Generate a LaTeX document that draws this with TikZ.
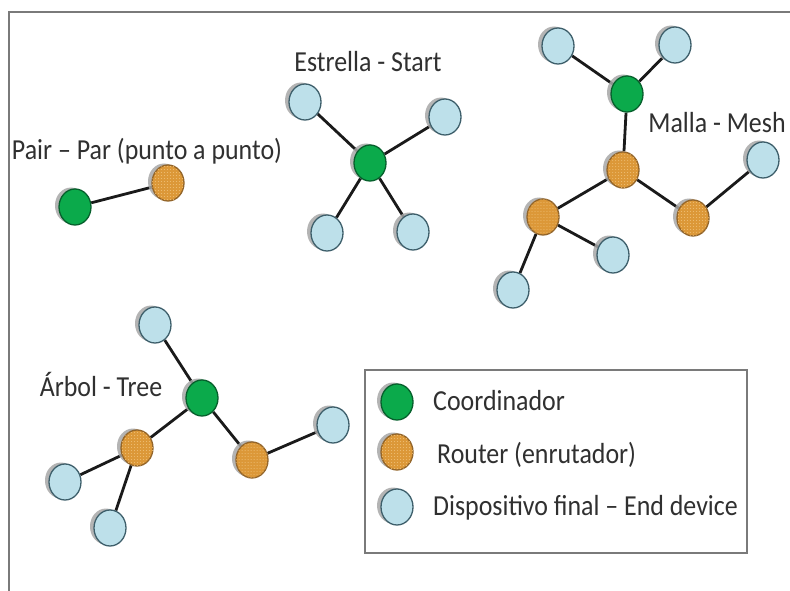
\documentclass[tikz,border=0pt]{standalone}
\usepackage{fontspec}
\setmainfont{Carlito}
\usetikzlibrary{shapes.geometric,shadows,patterns,backgrounds}

\definecolor{leaffill}{HTML}{BDE0EA}
\definecolor{leafline}{HTML}{3E5F6B}
\definecolor{greenfill}{HTML}{0BAA4B}
\definecolor{greenline}{HTML}{06602C}
\definecolor{orangefill}{HTML}{DC9838}
\definecolor{orangedot}{HTML}{F0C27A}
\definecolor{orangeline}{HTML}{93652A}
\definecolor{shadowgray}{HTML}{A8A8A8}
\definecolor{linkcol}{HTML}{1A1A1A}
\definecolor{textcol}{HTML}{303030}
\definecolor{framecol}{HTML}{7A7A7A}

\newcommand\talltext[1]{\scalebox{1}[1.12]{#1}}

\tikzset{
  dev/.style={ellipse, minimum width=32bp, minimum height=36bp, inner sep=0pt,
    line width=1.3bp,
    drop shadow={shadow xshift=-4bp, shadow yshift=1.5bp, fill=shadowgray, opacity=0.85}},
  enddev/.style={dev, draw=leafline, fill=leaffill},
  coordn/.style={dev, draw=greenline, fill=greenfill},
  router/.style={dev, draw=orangeline, fill=orangefill,
    postaction={pattern=dots, pattern color=orangedot}},
  link/.style={line width=2.8bp, draw=linkcol},
  lbl/.style={text=textcol, font=\fontsize{26}{30}\selectfont, inner sep=0pt},
}

\begin{document}
\begin{tikzpicture}[x=1bp, y=-1bp]
  \useasboundingbox (0,0) rectangle (790,591);

  % outer frame (top and left edges)
  \draw[framecol, line width=2bp] (9,591) -- (9,12) -- (790,12);

  % Pair - point to point
  \node[coordn] (p1) at (75,207) {};
  \node[router] (p2) at (168,183) {};
  \node[lbl] (plbl) at (147,151) {\talltext{Pair – Par (punto a punto)}};

  % Star
  \node[coordn]  (s0) at (370,163) {};
  \node[enddev] (s1) at (305,102) {};
  \node[enddev] (s2) at (445,117) {};
  \node[enddev] (s3) at (327,233) {};
  \node[enddev] (s4) at (413,232) {};
  \node[lbl] (slbl) at (368,62) {\talltext{Estrella - Start}};

  % Mesh
  \node[coordn]  (m0)  at (627,94) {};
  \node[enddev] (m1)  at (558,46) {};
  \node[enddev] (m2)  at (675,45) {};
  \node[router] (mr1) at (623,170) {};
  \node[router] (mr2) at (693,218) {};
  \node[enddev] (ml1) at (763,160) {};
  \node[router] (mr3) at (543,217) {};
  \node[enddev] (ml2) at (613,255) {};
  \node[enddev] (ml3) at (513,290) {};
  \node[lbl] (mlbl) at (717,123) {\talltext{Malla - Mesh}};

  % Tree
  \node[coordn]  (t0)  at (202,398) {};
  \node[enddev] (t1)  at (155,325) {};
  \node[router] (tr1) at (137,448) {};
  \node[router] (tr2) at (252,460) {};
  \node[enddev] (t2)  at (333,425) {};
  \node[enddev] (t3)  at (65,482) {};
  \node[enddev] (t4)  at (110,528) {};
  \node[lbl] (tlbl) at (101,384) {\talltext{Árbol - Tree}};

  % white page, then connections beneath the devices and their shadows
  \begin{scope}[on background layer]
    \fill[white] (0,0) rectangle (790,591);
    \draw[link] (p1) -- (p2);
    \draw[link] (s0) -- (s1);
    \draw[link] (s0) -- (s2);
    \draw[link] (s0) -- (s3);
    \draw[link] (s0) -- (s4);
    \draw[link] (m0) -- (m1);
    \draw[link] (m0) -- (m2);
    \draw[link] (m0) -- (mr1);
    \draw[link] (mr1) -- (mr2);
    \draw[link] (mr2) -- (ml1);
    \draw[link] (mr1) -- (mr3);
    \draw[link] (mr3) -- (ml2);
    \draw[link] (mr3) -- (ml3);
    \draw[link] (t0) -- (t1);
    \draw[link] (t0) -- (tr1);
    \draw[link] (t0) -- (tr2);
    \draw[link] (tr2) -- (t2);
    \draw[link] (tr1) -- (t3);
    \draw[link] (tr1) -- (t4);
  \end{scope}

  % legend
  \node[draw=framecol, line width=1.4bp, fill=white, inner sep=0pt,
        minimum width=382bp, minimum height=183bp] (legend) at (556,461.5) {};
  \node[coordn] (lg1) at (397,402) {};
  \node[router] (lg2) at (397,452) {};
  \node[enddev] (lg3) at (397,507) {};
  \node[lbl, anchor=west] (lt1) at (433,401) {\talltext{Coordinador}};
  \node[lbl, anchor=west] (lt2) at (437,455) {\talltext{Router (enrutador)}};
  \node[lbl, anchor=west] (lt3) at (433,508) {\talltext{Dispositivo final – End device}};
\end{tikzpicture}
\end{document}
